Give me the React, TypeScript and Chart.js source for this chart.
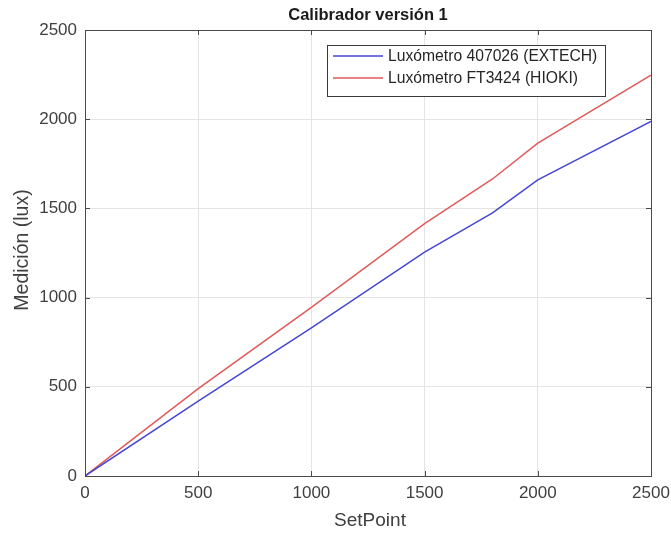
import React, { useEffect, useRef } from "react";
import { Chart, registerables } from "chart.js";

Chart.register(...registerables);

const setPoints = [0, 500, 1000, 1500, 1800, 2000, 2500];
const extech = [0, 420, 830, 1255, 1475, 1660, 1988];
const hioki = [0, 490, 945, 1415, 1665, 1866, 2247];
const seriesNames = ["Luxómetro 407026 (EXTECH)", "Luxómetro FT3424 (HIOKI)"];
const seriesColors = ["#4646d2", "#e05a5a"];
const titleText = "Calibrador versión 1";
const xTitle = "SetPoint";
const yTitle = "Medición (lux)";

const FONT = "'Liberation Sans', Arial, Helvetica, sans-serif";
const TEXT = "#404040";
const FRAME = "#4a4a4a";

const overlay = {
  id: "overlay",
  afterDraw(chart: any) {
    const { ctx, chartArea: a } = chart;
    const xs = chart.scales.x;
    const ys = chart.scales.y;
    ctx.save();
    ctx.strokeStyle = FRAME;
    ctx.lineWidth = 1;
    ctx.strokeRect(Math.round(a.left) + 0.5, Math.round(a.top) + 0.5, Math.round(a.right - a.left), Math.round(a.bottom - a.top));
    const tl = 5;
    ctx.beginPath();
    for (const t of xs.ticks) {
      const px = Math.round(xs.getPixelForValue(t.value)) + 0.5;
      ctx.moveTo(px, a.bottom);
      ctx.lineTo(px, a.bottom - tl);
      ctx.moveTo(px, a.top);
      ctx.lineTo(px, a.top + tl);
    }
    for (const t of ys.ticks) {
      const py = Math.round(ys.getPixelForValue(t.value)) + 0.5;
      ctx.moveTo(a.left, py);
      ctx.lineTo(a.left + tl, py);
      ctx.moveTo(a.right, py);
      ctx.lineTo(a.right - tl, py);
    }
    ctx.stroke();
    const cx = (a.left + a.right) / 2;
    ctx.fillStyle = "#1a1a1a";
    ctx.font = `bold 16.5px ${FONT}`;
    ctx.textAlign = "center";
    ctx.textBaseline = "middle";
    ctx.fillText(titleText, cx, 15);
    ctx.fillStyle = TEXT;
    ctx.font = `19px ${FONT}`;
    ctx.fillText(xTitle, cx + 2, 521);
    ctx.save();
    ctx.translate(23, (a.top + a.bottom) / 2 - 3);
    ctx.rotate(-Math.PI / 2);
    ctx.font = `19.5px ${FONT}`;
    ctx.fillText(yTitle, 0, 0);
    ctx.restore();
    const lx = 327.5, ly = 45.5, lw = 278, lh = 51;
    ctx.fillStyle = "#ffffff";
    ctx.fillRect(lx, ly, lw, lh);
    ctx.strokeStyle = "#3a3a3a";
    ctx.strokeRect(lx, ly, lw, lh);
    ctx.font = `15.7px ${FONT}`;
    ctx.textAlign = "left";
    ctx.textBaseline = "middle";
    const rows = [56, 78];
    seriesNames.forEach((n, i) => {
      ctx.strokeStyle = seriesColors[i];
      ctx.lineWidth = 1.5;
      ctx.beginPath();
      ctx.moveTo(333, rows[i]);
      ctx.lineTo(383, rows[i]);
      ctx.stroke();
      ctx.fillStyle = "#262626";
      ctx.fillText(n, 388, rows[i] + 1);
    });
    ctx.restore();
  },
};

export default function App() {
  const ref = useRef<HTMLCanvasElement>(null);
  useEffect(() => {
    if (!ref.current) return;
    const mk = (vals: number[]) => setPoints.map((x, i) => ({ x, y: vals[i] }));
    const tickFont = { family: FONT, size: 17 };
    const fmt = (v: any) => String(v);
    const chart = new Chart(ref.current, {
      type: "line",
      data: {
        datasets: [
          { label: seriesNames[0], data: mk(extech), borderColor: seriesColors[0], borderWidth: 1.5, pointRadius: 0, fill: false, tension: 0 },
          { label: seriesNames[1], data: mk(hioki), borderColor: seriesColors[1], borderWidth: 1.5, pointRadius: 0, fill: false, tension: 0 },
        ],
      },
      plugins: [overlay],
      options: {
        responsive: false,
        animation: false,
        layout: { padding: { top: 30, right: 20, left: 0, bottom: 0 } },
        plugins: { legend: { display: false }, title: { display: false }, tooltip: { enabled: false } },
        scales: {
          x: {
            type: "linear",
            min: 0,
            max: 2500,
            ticks: { stepSize: 500, color: TEXT, font: tickFont, padding: 7, maxRotation: 0, callback: fmt },
            grid: { color: "#e4e4e4", drawTicks: false },
            border: { display: false },
            afterFit: (s: any) => { s.height = 57; s.paddingRight = 0; s.paddingLeft = 0; },
          },
          y: {
            type: "linear",
            min: 0,
            max: 2500,
            ticks: { stepSize: 500, color: TEXT, font: tickFont, padding: 8, callback: fmt },
            grid: { color: "#e4e4e4", drawTicks: false },
            border: { display: false },
            afterFit: (s: any) => { s.width = 85; s.paddingTop = 0; s.paddingBottom = 0; },
          },
        },
      },
    });
    return () => chart.destroy();
  }, []);
  return (
    <div style={{ position: "fixed", left: 0, top: 0, width: 671, height: 533, background: "#fff" }}>
      <canvas ref={ref} width={671} height={533} />
    </div>
  );
}
